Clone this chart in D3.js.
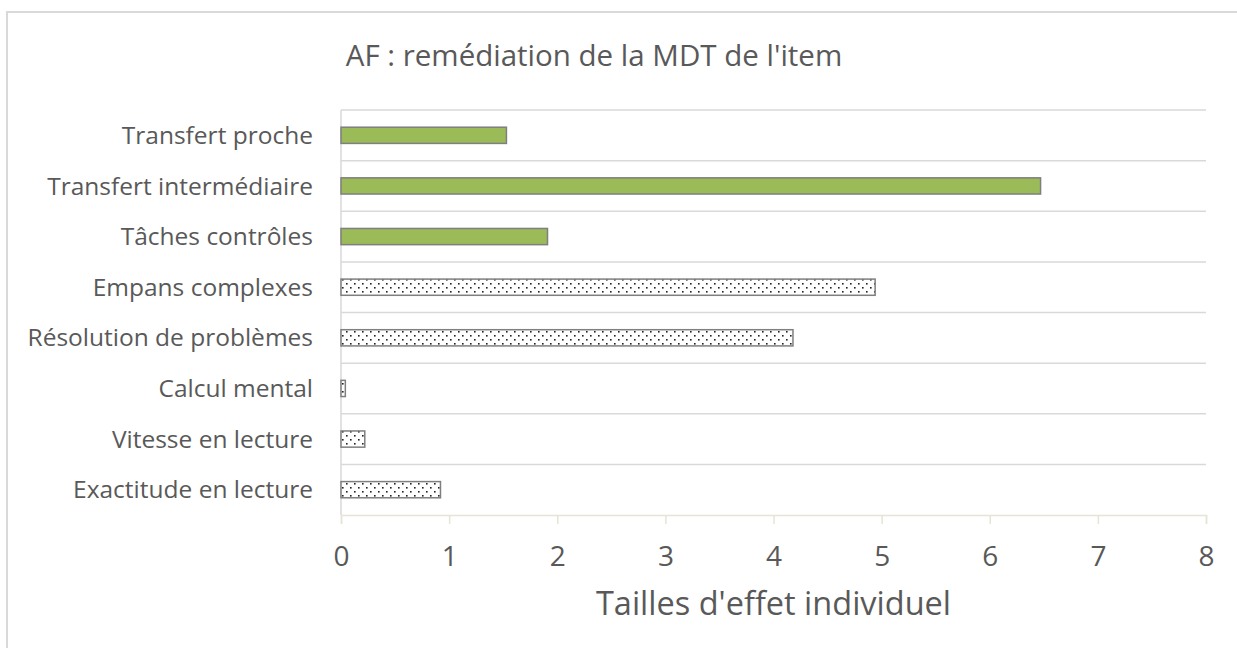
<!DOCTYPE html>
<html>
<head>
<meta charset="utf-8">
<script src="https://cdn.jsdelivr.net/npm/d3@7"></script>
<style>
  body { margin: 0; background: #fff; }
  svg { display: block; font-family: "Open Sans", sans-serif; }
</style>
</head>
<body>
<svg id="chart"></svg>
<script>
// categories top to bottom, as shown
const categories = ["Transfert proche", "Transfert intermédiaire", "Tâches contrôles",
    "Empans complexes", "Résolution de problèmes", "Calcul mental",
    "Vitesse en lecture", "Exactitude en lecture"];
const effectSizes = [1.53, 6.47, 1.91, 4.94, 4.18, 0.04, 0.22, 0.92];
// true = plain green fill, false = dotted pattern
const isTransfer = [true, true, true, false, false, false, false, false];
const xTicks = [0, 1, 2, 3, 4, 5, 6, 7, 8];

const width = 1237, height = 648;
const margin = { top: 110, right: 31, bottom: 133, left: 341 };
const innerW = width - margin.left - margin.right;
const innerH = height - margin.top - margin.bottom;

const svg = d3.select("#chart")
    .attr("width", width)
    .attr("height", height);

// dotted pattern
const defs = svg.append("defs");
const pat = defs.append("pattern")
    .attr("id", "dots")
    .attr("patternUnits", "userSpaceOnUse")
    .attr("width", 8)
    .attr("height", 8);
pat.append("rect").attr("width", 8).attr("height", 8).attr("fill", "#fff");
pat.append("rect").attr("x", 1).attr("y", 1).attr("width", 1.6).attr("height", 1.6).attr("fill", "#222");
pat.append("rect").attr("x", 5).attr("y", 5).attr("width", 1.6).attr("height", 1.6).attr("fill", "#222");

// chart frame
svg.append("rect")
    .attr("x", 7).attr("y", 12)
    .attr("width", width + 10).attr("height", height + 10)
    .attr("fill", "none")
    .attr("stroke", "#d9d9d9")
    .attr("stroke-width", 2);

svg.append("text")
    .attr("x", 594)
    .attr("y", 66)
    .attr("text-anchor", "middle")
    .style("font-size", "29.5px")
    .style("fill", "#595959")
    .text("AF : remédiation de la MDT de l'item");

const g = svg.append("g")
    .attr("transform", `translate(${margin.left},${margin.top})`);

const x = d3.scaleLinear().domain([0, 8]).range([0, innerW]);
const y = d3.scaleBand().domain(categories).range([0, innerH]).padding(0);

// horizontal gridlines between categories
g.selectAll(".grid")
    .data(categories)
    .enter()
    .append("line")
    .attr("class", "grid")
    .attr("x1", 0)
    .attr("x2", innerW)
    .attr("y1", d => y(d))
    .attr("y2", d => y(d))
    .attr("stroke", "#d9d9d9")
    .attr("stroke-width", 1.5);

// left axis line
g.append("line")
    .attr("x1", 0).attr("x2", 0)
    .attr("y1", 0).attr("y2", innerH)
    .attr("stroke", "#d9d9d9")
    .attr("stroke-width", 1.5);

// bottom axis
const xAxis = g.append("g")
    .attr("transform", `translate(0,${innerH})`)
    .call(d3.axisBottom(x).tickValues(xTicks).tickSize(9).tickPadding(22).tickFormat(d3.format("d")));
xAxis.select(".domain").attr("stroke", "#e6e4d6").attr("stroke-width", 1.5);
xAxis.selectAll(".tick line").attr("stroke", "#e6e4d6").attr("stroke-width", 1.5);
xAxis.selectAll(".tick text")
    .style("font-size", "28px")
    .style("fill", "#595959")
    .style("font-family", "Open Sans, sans-serif");

// category labels
g.selectAll(".cat-label")
    .data(categories)
    .enter()
    .append("text")
    .attr("class", "cat-label")
    .attr("x", -28)
    .attr("y", d => y(d) + y.bandwidth() / 2)
    .attr("dy", "0.35em")
    .attr("text-anchor", "end")
    .style("font-size", "24.5px")
    .style("fill", "#595959")
    .text(d => d);

// bars
const barH = y.bandwidth() * 0.32;
g.selectAll(".bar")
    .data(categories)
    .enter()
    .append("rect")
    .attr("class", "bar")
    .attr("x", x(0))
    .attr("y", d => y(d) + (y.bandwidth() - barH) / 2)
    .attr("width", (d, i) => x(effectSizes[i]) - x(0))
    .attr("height", barH)
    .attr("fill", (d, i) => isTransfer[i] ? "#9bbb59" : "url(#dots)")
    .attr("stroke", "#7f7f7f")
    .attr("stroke-width", 1.5);

// axis title
svg.append("text")
    .attr("x", margin.left + innerW / 2)
    .attr("y", 615)
    .attr("text-anchor", "middle")
    .style("font-size", "32.5px")
    .style("fill", "#595959")
    .text("Tailles d'effet individuel");
</script>
</body>
</html>
